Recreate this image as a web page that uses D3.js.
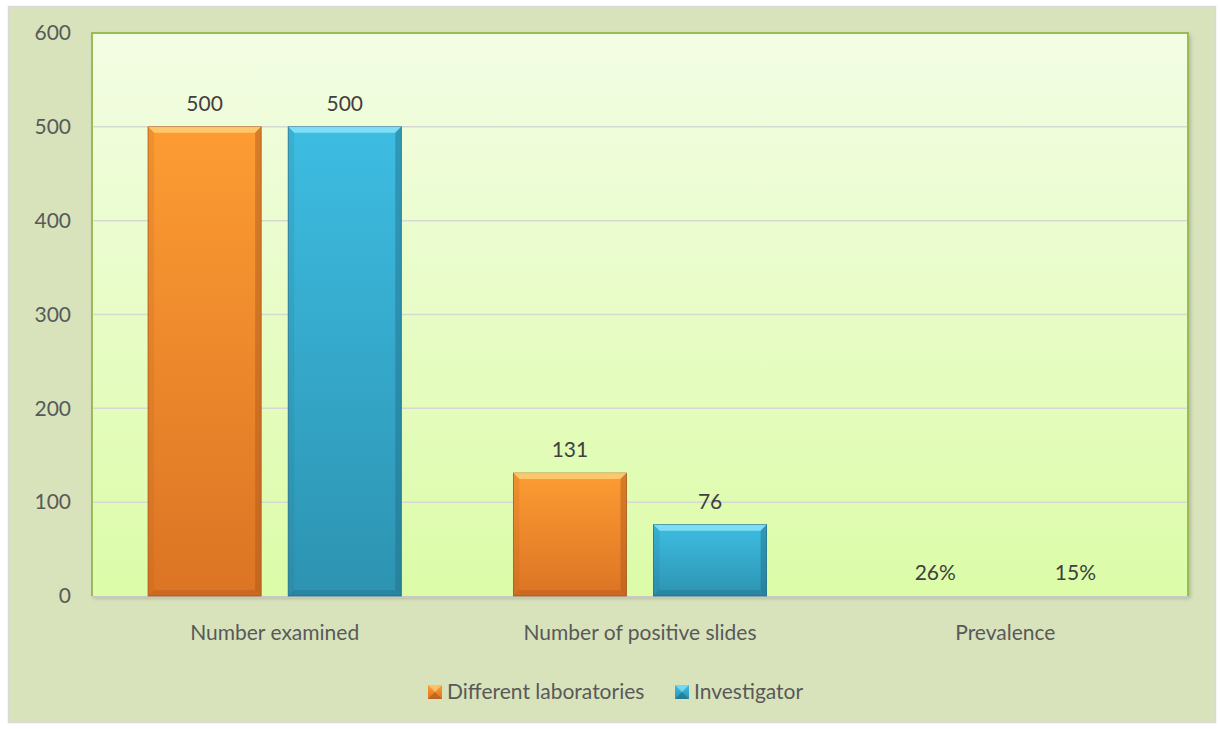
<!DOCTYPE html>
<html><head><meta charset="utf-8">
<script src="https://cdn.jsdelivr.net/npm/d3@7"></script>
<style>body{margin:0;background:#fff}svg{display:block}text{font-family:Lato,"Open Sans",sans-serif}</style>
</head><body><svg id="c" width="1220" height="729"></svg>
<script>
const categories = ["Number examined", "Number of positive slides", "Prevalence"];
const seriesNames = ["Different laboratories", "Investigator"];
const labValues = [500, 131, 0.26];
const invValues = [500, 76, 0.15];
const valueLabels = [["500","131","26%"],["500","76","15%"]];
const yTicks = [0,100,200,300,400,500,600];

const svg = d3.select("#c");
const defs = svg.append("defs");
const m={l:92,r:1188,t:33,b:596};
const FS=21;

svg.append("rect").attr("x",8.5).attr("y",6.5).attr("width",1207).attr("height",716).attr("fill","#d8e3bc").attr("stroke","#d9d9d9").attr("stroke-width",1.5);

const pg=defs.append("linearGradient").attr("id","pg").attr("x1",0).attr("y1",0).attr("x2",0).attr("y2",1);
pg.append("stop").attr("offset","0%").attr("stop-color","#f3fde4");
pg.append("stop").attr("offset","100%").attr("stop-color","#dcfca8");

const colors=[{top:"#fd9c33",bot:"#dc7424",hi:"#ffd27a",dk:"#a9561a"},{top:"#3dbde2",bot:"#2d93b1",hi:"#8fe6fa",dk:"#1f6c84"}];
colors.forEach((c,i)=>{
  const g=defs.append("linearGradient").attr("id","bg"+i).attr("x1",0).attr("y1",0).attr("x2",0).attr("y2",1);
  g.append("stop").attr("offset","0%").attr("stop-color",c.top);
  g.append("stop").attr("offset","100%").attr("stop-color",c.bot);
});
const sh=defs.append("filter").attr("id","sh").attr("x","-5%").attr("y","-5%").attr("width","115%").attr("height","115%");
sh.append("feDropShadow").attr("dx",2).attr("dy",2).attr("stdDeviation",2).attr("flood-color","#000").attr("flood-opacity",0.25);

const x=d3.scaleBand().domain(categories).range([m.l,m.r]).paddingInner(0).paddingOuter(0);
const xs=d3.scaleBand().domain([0,1]).range([0,x.bandwidth()]).paddingInner(0.193).paddingOuter(0.40);
const y=d3.scaleLinear().domain([0,600]).range([m.b,m.t]);

svg.append("rect").attr("x",m.l).attr("y",m.t).attr("width",m.r-m.l).attr("height",m.b-m.t).attr("fill","url(#pg)").attr("filter","url(#sh)");
svg.append("path").attr("d",`M${m.l},${m.b}V${m.t}H${m.r}V${m.b}`).attr("fill","none").attr("stroke","#9bbb59").attr("stroke-width",2);

svg.append("g").selectAll("line").data(yTicks.filter(t=>t>0&&t<600)).join("line")
 .attr("x1",m.l+1).attr("x2",m.r-1).attr("y1",d=>y(d)).attr("y2",d=>y(d)).attr("stroke","#d6d9d0").attr("stroke-width",1.5);

const ya=svg.append("g").attr("transform",`translate(${m.l},0)`).call(d3.axisLeft(y).tickValues(yTicks).tickSize(0).tickPadding(21));
ya.select(".domain").remove();
ya.selectAll("text").attr("font-size",FS).attr("fill","#595959").attr("font-family","Lato,'Open Sans',sans-serif");

svg.append("line").attr("x1",m.l).attr("x2",m.r).attr("y1",m.b+1).attr("y2",m.b+1).attr("stroke","#c8c8c8").attr("stroke-width",2);
const xa=svg.append("g").attr("transform",`translate(0,${m.b})`).call(d3.axisBottom(x).tickSize(0).tickPadding(29));
xa.select(".domain").remove();
xa.selectAll("text").attr("font-size",FS).attr("fill","#595959").attr("font-family","Lato,'Open Sans',sans-serif");

const series=[labValues,invValues];
series.forEach((vals,si)=>{
  const c=colors[si];
  vals.forEach((v,ci)=>{
    const x0=x(categories[ci])+xs(si), w=xs.bandwidth(), y0=y(v), h=y(0)-y(v);
    const g=svg.append("g");
    if(h>1){
      g.append("rect").attr("x",x0).attr("y",y0).attr("width",w).attr("height",h).attr("fill",`url(#bg${si})`).attr("stroke",c.dk).attr("stroke-width",0.8);
      const b=Math.min(6,h/3);
      g.append("path").attr("d",`M${x0},${y0}H${x0+w}L${x0+w-b},${y0+b}H${x0+b}Z`).attr("fill",c.hi).attr("opacity",0.8);
      g.append("path").attr("d",`M${x0+w},${y0}V${y0+h}L${x0+w-b},${y0+h-b}V${y0+b}Z`).attr("fill",c.dk).attr("opacity",0.45);
      g.append("path").attr("d",`M${x0},${y0+h}H${x0+w}L${x0+w-b},${y0+h-b}H${x0+b}Z`).attr("fill",c.dk).attr("opacity",0.35);
      g.append("path").attr("d",`M${x0},${y0}V${y0+h}L${x0+b},${y0+h-b}V${y0+b}Z`).attr("fill",c.dk).attr("opacity",0.15);
    }
    svg.append("text").attr("x",x0+w/2).attr("y",y0-16).attr("text-anchor","middle").attr("font-size",FS).attr("fill","#404040").text(valueLabels[si][ci]);
  });
});

const legX=[428,675];
seriesNames.forEach((n,i)=>{
  const c=colors[i];
  const lx=legX[i], ly=685;
  svg.append("rect").attr("x",lx).attr("y",ly).attr("width",14).attr("height",14).attr("fill",`url(#bg${i})`);
  svg.append("path").attr("d",`M${lx},${ly}H${lx+14}L${lx+7},${ly+7}Z`).attr("fill",c.hi).attr("opacity",0.7);
  svg.append("path").attr("d",`M${lx},${ly+14}H${lx+14}L${lx+7},${ly+7}Z`).attr("fill",c.dk).attr("opacity",0.6);
  svg.append("text").attr("x",lx+19).attr("y",ly+14).attr("font-size",FS).attr("fill","#595959").text(n);
});
</script></body></html>
